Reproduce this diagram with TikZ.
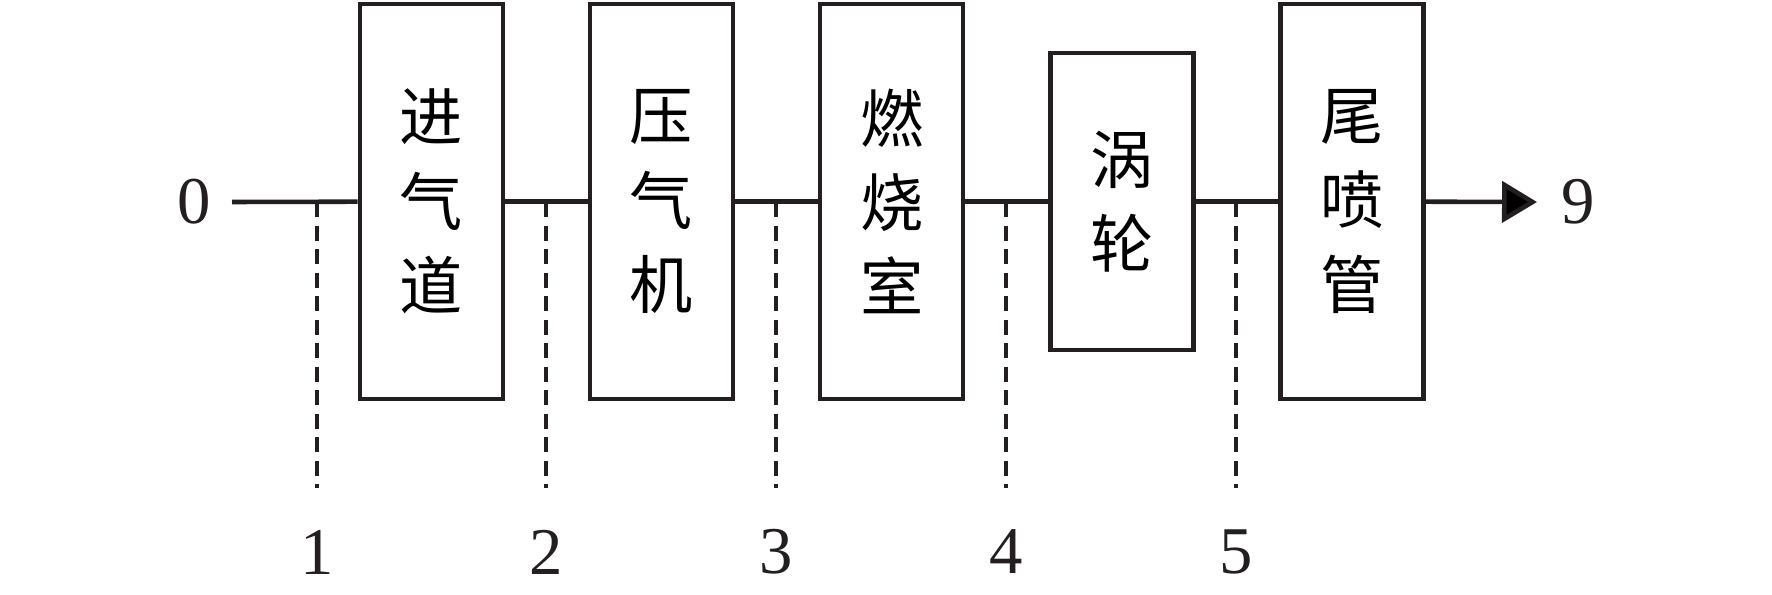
\documentclass[tikz,border=0pt]{standalone}
\usepackage{fontspec}
\setmainfont{Liberation Serif}
\newfontfamily\cjk{Noto Sans CJK SC}
\usepackage{xcolor}
\definecolor{linecolor}{RGB}{35, 31, 32}
\usepackage{tikz}
\usetikzlibrary{arrows.meta, calc, positioning}

\tikzset{
  unit/.style={draw=linecolor, line width=1.3pt, minimum width=1.43cm,
    minimum height=3.95cm, align=center, inner sep=0pt,
    font=\cjk\fontsize{18}{24}\selectfont},
  station/.style={inner sep=0pt, text=linecolor, font=\fontsize{19}{22}\selectfont},
  flow/.style={draw=linecolor, line width=1.3pt},
  secline/.style={draw=linecolor, line width=1.05pt,
    dash pattern=on 0.15cm off 0.085cm, shorten >=0.41cm}
}

\begin{document}
\begin{tikzpicture}
  \useasboundingbox (0,0) rectangle (17.72,5.94);
  \node[unit] (inlet) at (4.315,3.925) {进\\气\\道};
  \node[unit, right=0.825cm of inlet] (comp) {压\\气\\机};
  \node[unit, right=0.825cm of comp] (burner) {燃\\烧\\室};
  \node[unit, minimum height=2.97cm, right=0.825cm of burner] (turb) {涡\\轮};
  \node[unit, right=0.825cm of turb] (nozzle) {尾\\喷\\管};
  \node[station] (s0) at (1.94,3.92) {0};
  \node[station] (s9) at (15.78,3.92) {9};
  \coordinate (in) at (2.32,3.92);
  \coordinate (out) at (15.37,3.92);
  \coordinate (t1) at (3.17,3.92);
  \coordinate (t2) at (5.46,3.92);
  \coordinate (t3) at (7.76,3.92);
  \coordinate (t4) at (10.06,3.92);
  \coordinate (t5) at (12.36,3.92);
  \node[station] (n1) at (3.17,0.42) {1};
  \node[station] (n2) at (5.46,0.42) {2};
  \node[station] (n3) at (7.76,0.42) {3};
  \node[station] (n4) at (10.06,0.42) {4};
  \node[station] (n5) at (12.36,0.42) {5};
  \path[flow]
    (in) edge (inlet)
    (inlet) edge (comp)
    (comp) edge (burner)
    (burner) edge (turb)
    (turb) edge (nozzle)
    (nozzle) edge[-{Triangle[length=0.35cm,width=0.41cm]}] (out)
    ;
  \path[secline]
    (t1) edge (n1)
    (t2) edge (n2)
    (t3) edge (n3)
    (t4) edge (n4)
    (t5) edge (n5)
    ;
\end{tikzpicture}
\end{document}
